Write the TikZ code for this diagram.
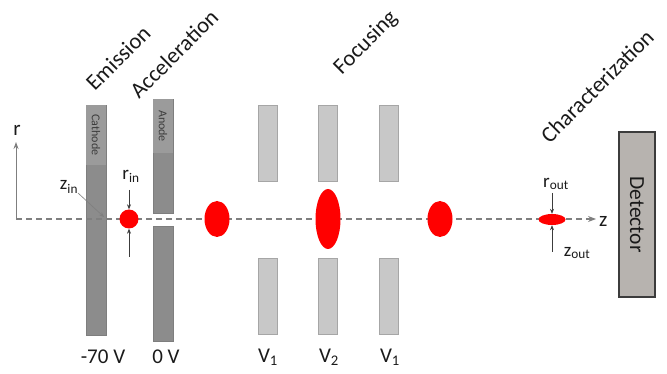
\documentclass[tikz,border=0pt]{standalone}
\usepackage{fontspec}
\setmainfont{Carlito}
\usetikzlibrary{shapes.geometric,arrows.meta}
\definecolor{elecdark}{HTML}{8C8C8C}
\definecolor{eleclabel}{HTML}{9B9B9B}
\definecolor{lens}{HTML}{C8C8C8}
\definecolor{lensborder}{HTML}{A6A6A6}
\definecolor{axisgray}{HTML}{7F7F7F}
\definecolor{beam}{HTML}{FF0000}
\definecolor{detfill}{HTML}{B7B3AF}
\definecolor{txt}{HTML}{1A1A1A}
\tikzset{
  elec/.style={draw=elecdark!90!black, line width=0.4pt, fill=elecdark, inner sep=0pt},
  eleclab/.style={fill=eleclabel, inner sep=0pt, rotate=-90, font=\fontsize{12}{13}\selectfont, text=txt!85},
  lensbox/.style={draw=lensborder, line width=0.6pt, fill=lens, minimum width=19pt, minimum height=76pt, inner sep=0pt},
  blob/.style={ellipse, fill=beam, inner sep=0pt},
  stage/.style={rotate=45, font=\fontsize{22.5}{26}\selectfont, text=txt, inner sep=0pt},
  lbl/.style={font=\fontsize{21}{24}\selectfont, text=txt, inner sep=0pt},
  sz/.style={font=\fontsize{19}{22}\selectfont, text=txt, inner sep=0pt},
  dimarrow/.style={line width=0.6pt, draw=txt!85, -{Stealth[length=5pt,width=4pt]}}
}
\begin{document}
\begin{tikzpicture}[x=1pt,y=-1pt]
\useasboundingbox (0,0) rectangle (667,374);
% stage titles
\node[stage] (emis) at (118,58) {Emission};
\node[stage] (accel) at (174,54) {Acceleration};
\node[stage] (focus) at (366,43) {Focusing};
\node[stage] (charac) at (597,86) {Characterization};
% cathode
\node[elec, minimum width=20pt, minimum height=230pt] (cath) at (96,220) {};
\node[eleclab, minimum width=60pt, minimum height=19.4pt] (cathlab) at (96,135) {Cathode};
% anode
\node[elec, minimum width=20pt, minimum height=114pt] (anodeup) at (163,156) {};
\node[eleclab, minimum width=54pt, minimum height=19.4pt] (anodelab) at (163,126) {Anode};
\node[elec, minimum width=20pt, minimum height=115pt] (anodedn) at (163,283.5) {};
% focusing lenses
\node[lensbox] (l1u) at (267.5,143) {};
\node[lensbox] (l1d) at (267.5,296) {};
\node[lensbox] (l2u) at (328,143) {};
\node[lensbox] (l2d) at (328,296) {};
\node[lensbox] (l3u) at (389,143) {};
\node[lensbox] (l3d) at (389,296) {};
% detector
\node[draw=txt!85, line width=1.2pt, fill=detfill, minimum width=36pt, minimum height=165pt, inner sep=0pt] (det) at (637,214.5) {};
\node[rotate=-90, font=\fontsize{21.5}{24}\selectfont, text=txt] (detlab) at (637,214.5) {Detector};
% axes
\coordinate (orig) at (16,219);
\coordinate (rtip) at (16,142);
\coordinate (ztip) at (596,219);
\draw[axisgray, line width=1.2pt, dash pattern=on 6pt off 4pt] (orig) -- (586,219);
\draw[axisgray, line width=1.2pt, -{Stealth[length=8pt,width=6pt]}] (586,219) -- (ztip);
\draw[axisgray, line width=0.9pt, -{Stealth[length=7pt,width=5pt]}] (orig) -- (rtip);
\node[lbl, anchor=base] (rlab) at (17,136) {r};
\node[lbl, anchor=west] (zlab) at (599,221) {z};
% beam
\node[blob, minimum width=19pt, minimum height=19pt] (b1) at (129,219) {};
\node[blob, minimum width=25pt, minimum height=36pt] (b2) at (217,219) {};
\node[blob, minimum width=25pt, minimum height=60pt] (b3) at (328,219) {};
\node[blob, minimum width=25pt, minimum height=36pt] (b4) at (440,219) {};
\node[blob, minimum width=27pt, minimum height=11pt] (b5) at (552,219.5) {};
% z_in
\node[sz] (zin) at (69,187) {z\textsubscript{in}};
\coordinate (zinend) at (104,217);
\draw[line width=0.6pt, draw=axisgray, -{Stealth[length=5pt,width=4pt]}] (78,193) -- (zinend);
% r_in
\node[sz] (rin) at (131,176) {r\textsubscript{in}};
\coordinate (rina) at (129,190);
\coordinate (rinb) at (129,257);
\draw[dimarrow] (rina) -- (b1.north);
\draw[dimarrow] (rinb) -- (b1.south);
% r_out / z_out
\node[sz] (rout) at (556,184) {r\textsubscript{out}};
\node[sz] (zout) at (577,253) {z\textsubscript{out}};
\coordinate (routa) at (552,193);
\coordinate (routb) at (552,252);
\draw[dimarrow] (routa) -- (b5.north);
\draw[dimarrow] (routb) -- (b5.south);
% voltages
\node[lbl] (v70) at (103,357) {-70 V};
\node[lbl] (v0) at (166,357) {0 V};
\node[lbl] (v1a) at (268,357) {V\textsubscript{1}};
\node[lbl] (v2) at (329,357) {V\textsubscript{2}};
\node[lbl] (v1b) at (390,357) {V\textsubscript{1}};
\end{tikzpicture}
\end{document}
